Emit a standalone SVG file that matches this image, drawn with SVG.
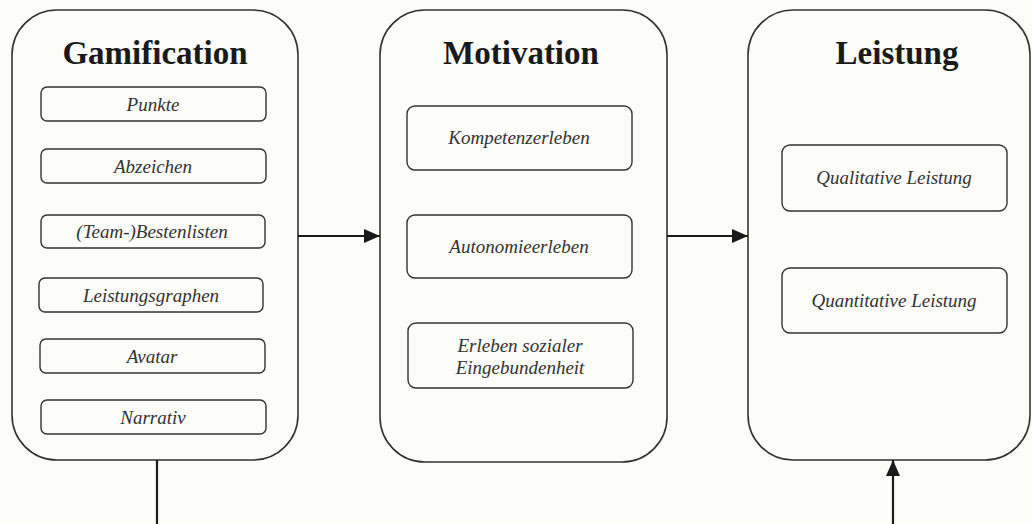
<svg xmlns="http://www.w3.org/2000/svg" width="1032" height="524" viewBox="0 0 1032 524">
<style>
.big{fill:none;stroke:#333;stroke-width:1.6}
.sub{fill:none;stroke:#333;stroke-width:1.4}
.title{font-family:"Liberation Serif",serif;font-weight:bold;font-size:33px;fill:#1a1a1a;text-anchor:middle}
.lbl{font-family:"Liberation Serif",serif;font-style:italic;font-size:19px;fill:#333;text-anchor:middle}
.conn{fill:none;stroke:#1a1a1a;stroke-width:2.2}
</style>
<defs>
<marker id="ahl" markerWidth="16" markerHeight="14" refX="16" refY="7" orient="auto" markerUnits="userSpaceOnUse" viewBox="0 0 16 14">
<path d="M0,0 L16,7 L0,14 Z" fill="#1a1a1a"/>
</marker>
</defs>
<rect width="1032" height="524" fill="#fcfcf8"/>
<g id="gamification">
<rect class="big" x="12" y="10" width="286" height="450" rx="45" ry="45"/>
<text class="title" x="155" y="64">Gamification</text>
<rect class="sub" x="41" y="87" width="225" height="34" rx="6"/>
<text class="lbl" x="153" y="111">Punkte</text>
<rect class="sub" x="41" y="149" width="225" height="34" rx="6"/>
<text class="lbl" x="153" y="173">Abzeichen</text>
<rect class="sub" x="41" y="215" width="224" height="33" rx="6"/>
<text class="lbl" x="152" y="238">(Team-)Bestenlisten</text>
<rect class="sub" x="39" y="278" width="224" height="34" rx="6"/>
<text class="lbl" x="151" y="302">Leistungsgraphen</text>
<rect class="sub" x="40" y="339" width="225" height="34" rx="6"/>
<text class="lbl" x="152" y="363">Avatar</text>
<rect class="sub" x="41" y="400" width="225" height="34" rx="6"/>
<text class="lbl" x="153" y="424">Narrativ</text>
</g>
<g id="motivation">
<rect class="big" x="380" y="10" width="287" height="452" rx="45" ry="45"/>
<text class="title" x="521" y="64">Motivation</text>
<rect class="sub" x="407" y="106" width="225" height="64" rx="8"/>
<text class="lbl" x="519" y="144">Kompetenzerleben</text>
<rect class="sub" x="407" y="215" width="225" height="63" rx="8"/>
<text class="lbl" x="519" y="253">Autonomieerleben</text>
<rect class="sub" x="408" y="323" width="225" height="65" rx="8"/>
<text class="lbl" x="520" y="352">Erleben sozialer</text>
<text class="lbl" x="520" y="374">Eingebundenheit</text>
</g>
<g id="leistung">
<rect class="big" x="748" y="10" width="282" height="450" rx="45" ry="45"/>
<text class="title" x="897" y="64">Leistung</text>
<rect class="sub" x="782" y="145" width="225" height="66" rx="8"/>
<text class="lbl" x="894" y="184">Qualitative Leistung</text>
<rect class="sub" x="782" y="268" width="225" height="65" rx="8"/>
<text class="lbl" x="894" y="307">Quantitative Leistung</text>
</g>
<g id="connectors">
<line class="conn" x1="298" y1="236" x2="380" y2="236" marker-end="url(#ahl)"/>
<line class="conn" x1="667" y1="236" x2="748" y2="236" marker-end="url(#ahl)"/>
<line class="conn" x1="157" y1="460" x2="157" y2="524"/>
<line class="conn" x1="893" y1="524" x2="893" y2="460" marker-end="url(#ahl)"/>
</g>
</svg>
